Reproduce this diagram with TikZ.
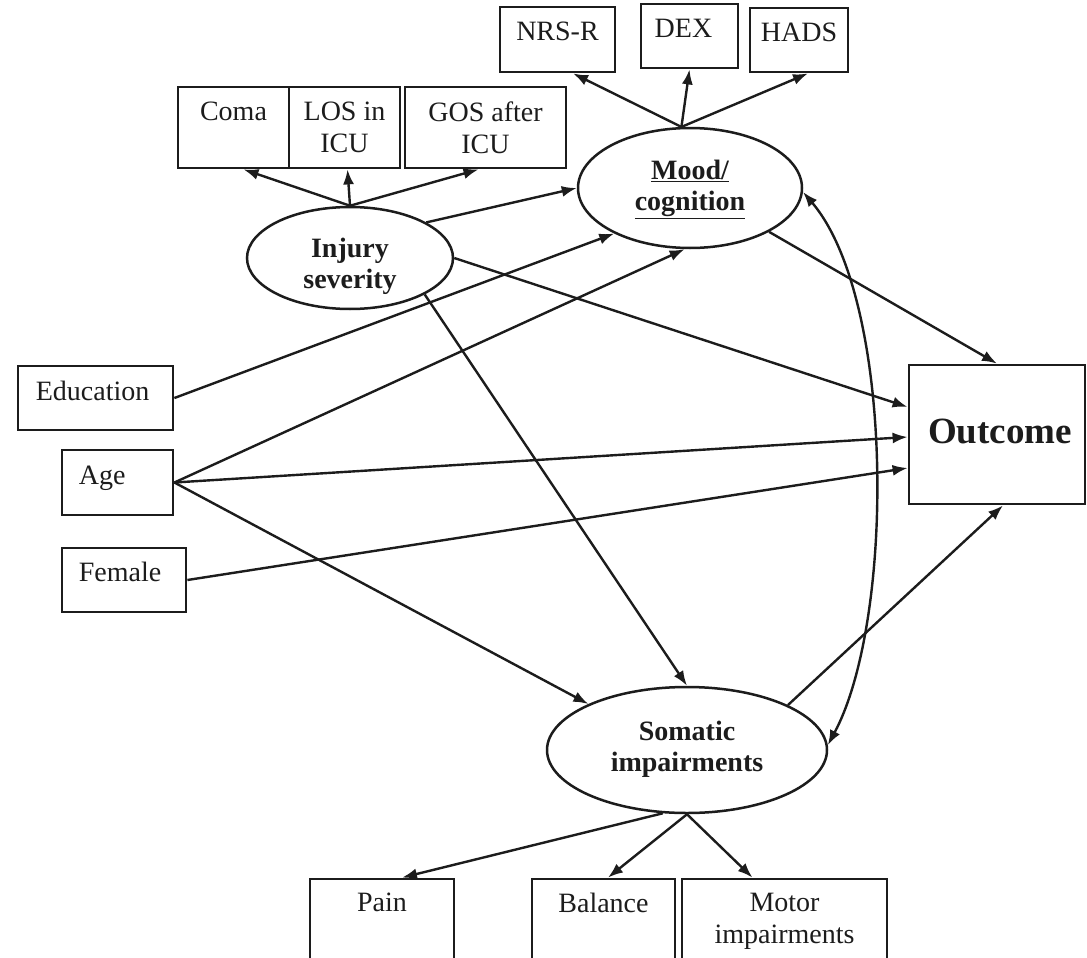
\documentclass[tikz,border=0pt]{standalone}
\usepackage{fontspec}
\setmainfont{Liberation Serif}
\usetikzlibrary{arrows.meta,shapes.geometric}
\newcommand\myfs{\fontsize{28}{32}\selectfont}
\newcommand\mybfs{\fontsize{28}{31}\selectfont\bfseries}
\definecolor{ink}{HTML}{1c1c1c}
\begin{document}
\begin{tikzpicture}[x=1pt,y=-1pt,
  box/.style={draw=ink, line width=2.8pt, inner sep=0pt},
  ell/.style={draw=ink, ellipse, line width=2.5pt, inner sep=0pt},
  toptext/.style={anchor=north, inner sep=0pt, align=center, font=\myfs, text=ink},
  lefttext/.style={anchor=north west, inner sep=0pt, font=\myfs, text=ink},
  boldtext/.style={inner sep=0pt, align=center, font=\mybfs, text=ink},
  conn/.style={draw=ink, line width=2.4pt, -{Latex[length=15pt,width=11pt]}},
  biconn/.style={draw=ink, line width=2.4pt, {Latex[length=15pt,width=11pt]}-{Latex[length=15pt,width=11pt]}}
]
\path[use as bounding box, clip] (0,0) rectangle (1087,958);
\fill[white] (0,0) rectangle (1087,958);

% boxes
\node[box, minimum width=115pt, minimum height=65pt] (nrs) at (557.5,39.5) {};
\node[box, minimum width=97pt, minimum height=64pt] (dex) at (689.5,36) {};
\node[box, minimum width=98pt, minimum height=64pt] (hads) at (799,40) {};
\node[box, minimum width=111pt, minimum height=81pt] (coma) at (233.5,127.5) {};
\node[box, minimum width=111pt, minimum height=81pt] (los) at (344.5,127.5) {};
\node[box, minimum width=161pt, minimum height=81pt] (gos) at (485.5,127.5) {};
\node[box, minimum width=155pt, minimum height=64pt] (edu) at (95.5,398) {};
\node[box, minimum width=111pt, minimum height=65pt] (age) at (117.5,482.5) {};
\node[box, minimum width=124pt, minimum height=64pt] (female) at (124,580) {};
\node[box, minimum width=176pt, minimum height=139pt] (outcome) at (997,434.5) {};
\node[box, minimum width=144pt, minimum height=86pt] (pain) at (382,922) {};
\node[box, minimum width=143pt, minimum height=86pt] (balance) at (603.5,922) {};
\node[box, minimum width=205pt, minimum height=86pt] (motor) at (784.5,922) {};

% ellipses
\node[ell, minimum width=206pt, minimum height=102pt] (injury) at (350,258) {};
\node[ell, minimum width=224pt, minimum height=120pt] (mood) at (690,188) {};
\node[ell, minimum width=280pt, minimum height=126pt] (somatic) at (687,750) {};

% texts
\node[toptext] (nrst) at ([yshift=-16pt]nrs.north) {NRS-R};
\node[toptext] (dext) at ([xshift=-6pt,yshift=-16pt]dex.north) {DEX};
\node[toptext] (hadst) at ([yshift=-16pt]hads.north) {HADS};
\node[toptext] (comat) at ([yshift=-16pt]coma.north) {Coma};
\node[toptext] (lost) at ([yshift=-16pt]los.north) {LOS in\\ICU};
\node[toptext] (gost) at ([yshift=-16pt]gos.north) {GOS after\\ICU};
\node[lefttext] (edut) at ([xshift=19pt,yshift=-16pt]edu.north west) {Education};
\node[lefttext] (aget) at ([xshift=18pt,yshift=-17pt]age.north west) {Age};
\node[lefttext] (femalet) at ([xshift=18pt,yshift=-15pt]female.north west) {Female};
\node[toptext] (paint) at ([yshift=-15pt]pain.north) {Pain};
\node[toptext] (balancet) at ([yshift=-15pt]balance.north) {Balance};
\node[toptext] (motort) at ([yshift=-15pt]motor.north) {Motor\\impairments};
\node[boldtext] (injuryt) at ([yshift=-8pt]injury.center) {Injury\\severity};
\node[boldtext] (moodt) at ([yshift=-1pt]mood.center) {\underline{Mood/}\\\underline{cognition}};
\node[boldtext] (somatict) at ([yshift=1pt]somatic.center) {Somatic\\impairments};
\node[inner sep=0pt, font=\fontsize{37}{40}\selectfont\bfseries, text=ink] (outcomet) at ([xshift=3pt,yshift=3pt]outcome.center) {Outcome};

% indicators
\draw[conn] (mood.98) -- ([xshift=15.5pt]nrs.south);
\draw[conn] (mood.98) -- (dex.south);
\draw[conn] (mood.98) -- ([xshift=9pt]hads.south);
\draw[conn] (injury.north) -- ([xshift=10pt]coma.south);
\draw[conn] (injury.north) -- ([xshift=3pt]los.south);
\draw[conn] (injury.north) -- ([xshift=-7pt]gos.south);
\draw[conn] (somatic.249) -- ([xshift=20pt]pain.north);
\draw[conn] (somatic.south) -- ([xshift=4.5pt]balance.north);
\draw[conn] (somatic.south) -- ([xshift=-32pt]motor.north);

% structural paths
\draw[conn] (injury.25) -- (mood.west);
\draw[conn] (injury.east) -- ([yshift=27.5pt]outcome.west);
\draw[conn] (injury.-26) -- (somatic.north);
\draw[conn] (edu.east) -- (mood.211);
\draw[conn] (age.east) -- (mood.265);
\draw[conn] (age.east) -- ([yshift=-2.5pt]outcome.west);
\draw[conn] (age.east) -- (somatic.155);
\draw[conn] (female.east) -- ([yshift=-33.5pt]outcome.west);
\draw[conn] (mood.-29) -- (outcome.north);
\draw[conn] (somatic.24) -- ([xshift=6pt]outcome.south);
\draw[biconn] (mood.-2) .. controls (895,300) and (895,620) .. (somatic.2);
\end{tikzpicture}
\end{document}
